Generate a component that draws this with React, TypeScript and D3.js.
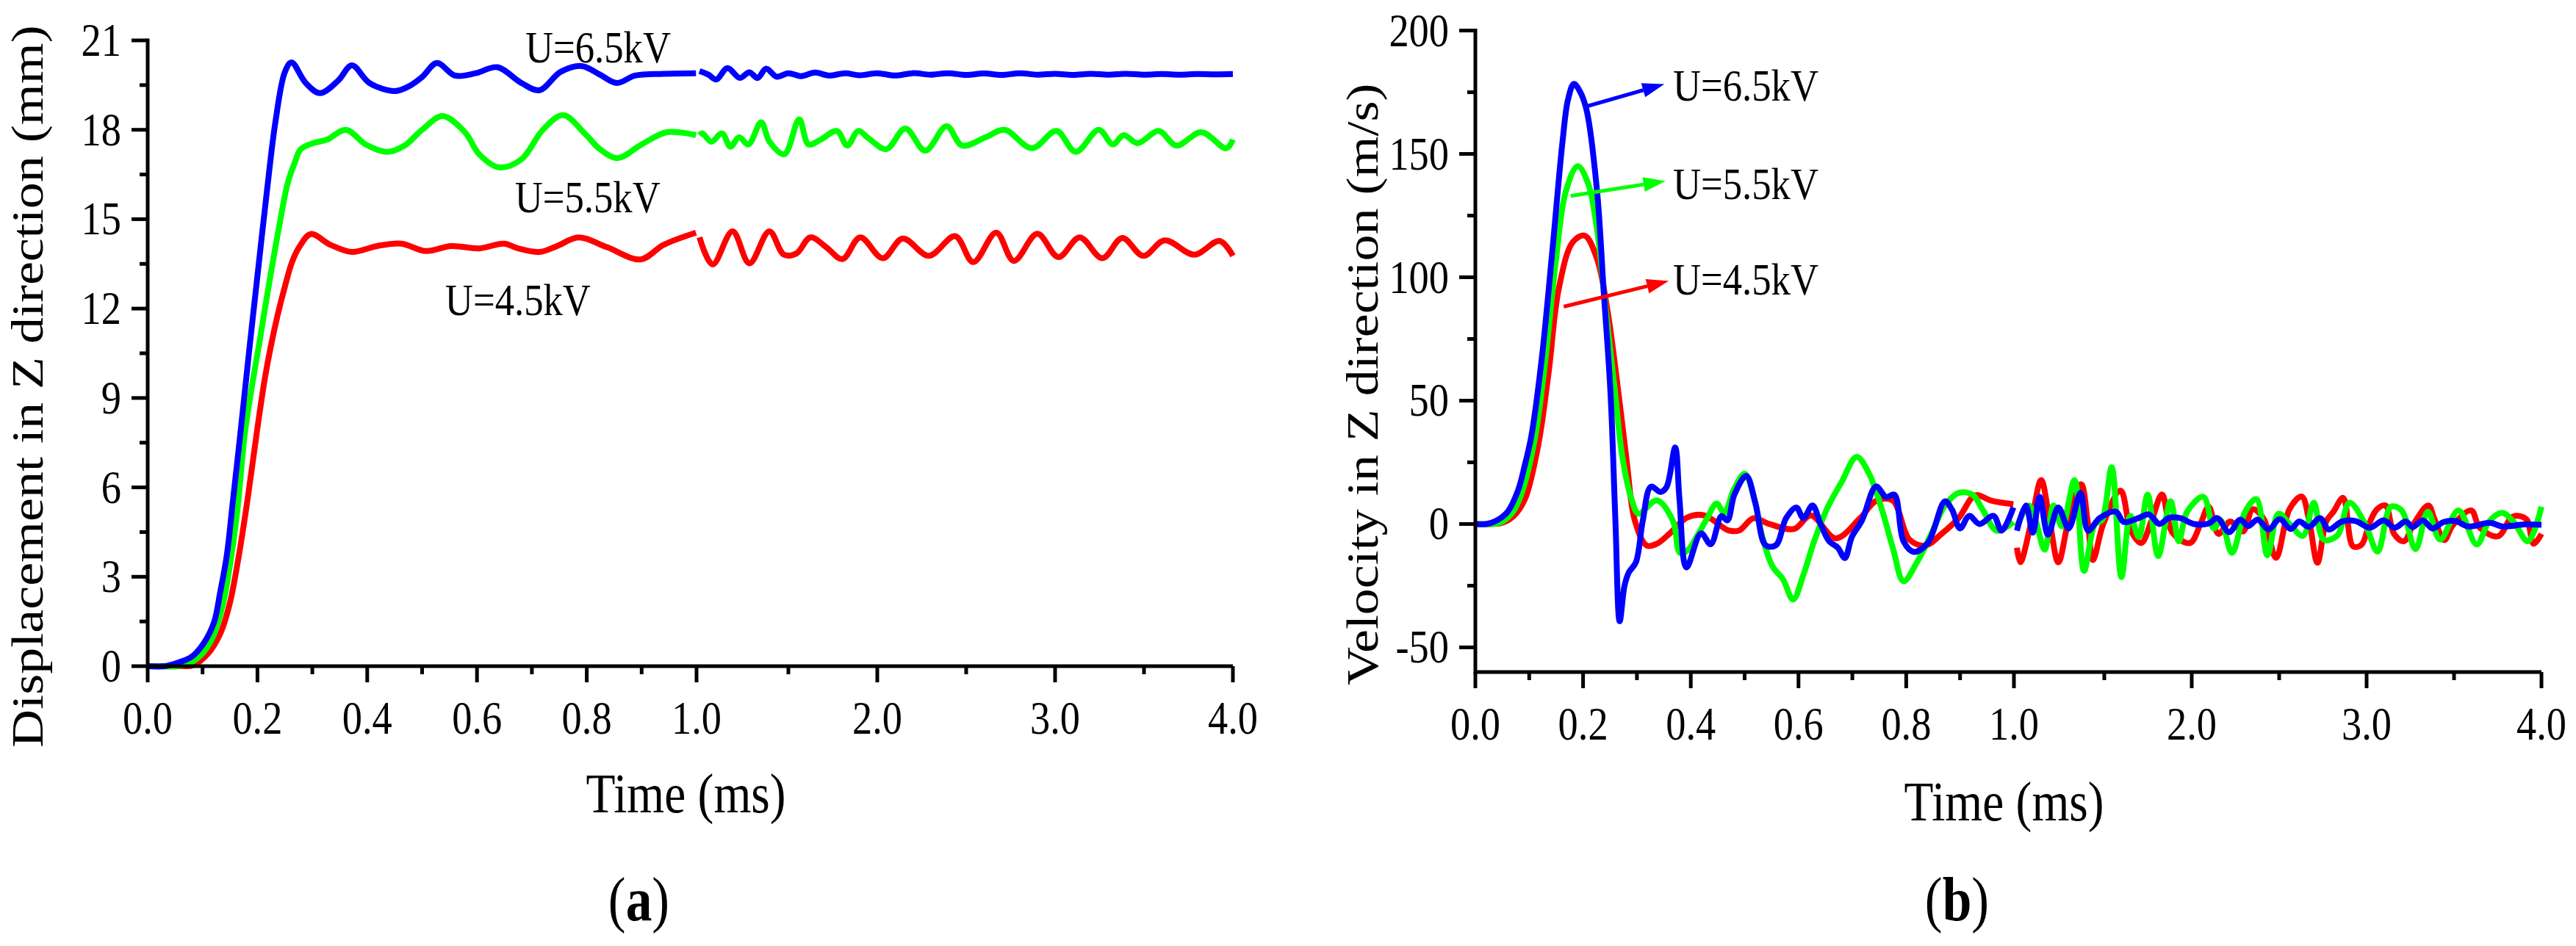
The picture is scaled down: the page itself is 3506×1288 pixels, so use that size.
import * as d3 from 'd3'
import React from 'react'

type Pt = [number, number]

const FONT = '"Times New Roman", "Liberation Serif", serif'
const SQUEEZE = 0.85
const BLUE = '#0000ff'
const GREEN = '#00ff00'
const RED = '#ff0000'

// time ticks (broken axis: 0-1 ms, then 1-4 ms)
const timeMajorA = [0, 0.2, 0.4, 0.6, 0.8, 1.0]
const timeMinorA = [0.1, 0.3, 0.5, 0.7, 0.9]
const timeMajorB = [2, 3, 4]
const timeMinorB = [1.5, 2.5, 3.5]

// (a) displacement, mm
const dispMajor = [0, 3, 6, 9, 12, 15, 18, 21]
const dispMinor = [1.5, 4.5, 7.5, 10.5, 13.5, 16.5, 19.5]

const disp45: Pt[] = [
    [0, 0], [0.06, 0], [0.083, 0.03], [0.11, 0.42], [0.132, 1.08], [0.15, 2.14], [0.166, 3.7], [0.182, 5.6],
    [0.2, 8.0], [0.213, 9.6], [0.224, 10.7], [0.237, 11.8], [0.25, 12.74], [0.263, 13.56], [0.276, 14.06],
    [0.297, 14.5], [0.333, 14.14], [0.372, 13.9], [0.418, 14.1], [0.462, 14.18], [0.507, 13.93], [0.553, 14.1],
    [0.604, 14.02], [0.649, 14.18], [0.675, 14.02], [0.714, 13.9], [0.746, 14.1], [0.785, 14.39], [0.837, 14.06],
    [0.898, 13.65], [0.94, 14.14], [0.999, 14.55],
    [1.0, 14.39], [1.074, 13.48], [1.186, 14.59], [1.281, 13.52], [1.393, 14.59], [1.475, 13.81], [1.545, 13.85],
    [1.624, 14.39], [1.713, 14.06], [1.804, 13.66], [1.904, 14.39], [2.031, 13.69], [2.143, 14.35], [2.29, 13.77],
    [2.438, 14.43], [2.54, 13.56], [2.669, 14.55], [2.768, 13.6], [2.9, 14.51], [3.019, 13.73], [3.138, 14.39],
    [3.266, 13.69], [3.378, 14.37], [3.496, 13.77], [3.616, 14.29], [3.783, 13.81], [3.925, 14.27], [4.0, 13.77],
]

const disp55: Pt[] = [
    [0, 0], [0.05, 0], [0.07, 0.05], [0.097, 0.37], [0.119, 0.99], [0.137, 2.07], [0.15, 3.4], [0.162, 5.0],
    [0.177, 7.8], [0.19, 9.4], [0.203, 10.8], [0.22, 12.7], [0.24, 14.8], [0.255, 16.2], [0.268, 16.9],
    [0.279, 17.35], [0.301, 17.55], [0.327, 17.67], [0.361, 18.0], [0.398, 17.5], [0.436, 17.26], [0.468, 17.47],
    [0.5, 18.0], [0.537, 18.46], [0.578, 17.92], [0.604, 17.18], [0.64, 16.74], [0.681, 17.01], [0.72, 18.0],
    [0.757, 18.49], [0.798, 17.84], [0.824, 17.35], [0.856, 17.05], [0.9, 17.51], [0.946, 17.92], [0.999, 17.82],
    [1.0, 17.82], [1.016, 17.88], [1.066, 17.6], [1.127, 17.88], [1.174, 17.43], [1.222, 17.75], [1.275, 17.51],
    [1.347, 18.25], [1.394, 17.6], [1.477, 17.18], [1.561, 18.35], [1.613, 17.51], [1.682, 17.67], [1.773, 17.96],
    [1.831, 17.47], [1.893, 17.96], [1.952, 17.71], [2.051, 17.35], [2.158, 18.04], [2.27, 17.3], [2.39, 18.12],
    [2.477, 17.47], [2.61, 17.75], [2.716, 18.0], [2.87, 17.38], [3.008, 17.96], [3.116, 17.26], [3.246, 18.0],
    [3.325, 17.51], [3.385, 17.82], [3.464, 17.55], [3.583, 17.96], [3.682, 17.47], [3.822, 17.92], [3.963, 17.38],
    [4.0, 17.67],
]

const disp65: Pt[] = [
    [0, 0], [0.03, 0], [0.052, 0.1], [0.079, 0.3], [0.101, 0.74], [0.121, 1.48], [0.132, 2.47], [0.144, 3.7],
    [0.155, 5.5], [0.17, 8.0], [0.185, 10.6], [0.2, 13.1], [0.217, 15.9], [0.233, 18.3], [0.25, 19.94],
    [0.262, 20.26], [0.288, 19.57], [0.314, 19.23], [0.347, 19.65], [0.372, 20.16], [0.404, 19.57], [0.45, 19.3],
    [0.475, 19.45], [0.5, 19.77], [0.527, 20.24], [0.56, 19.82], [0.598, 19.9], [0.637, 20.1], [0.681, 19.57],
    [0.714, 19.33], [0.752, 19.94], [0.791, 20.14], [0.824, 19.85], [0.855, 19.57], [0.888, 19.82], [0.94, 19.88],
    [0.999, 19.9],
    [1.0, 19.97], [1.05, 19.85], [1.095, 19.69], [1.157, 20.07], [1.227, 19.74], [1.28, 19.93], [1.327, 19.74],
    [1.375, 20.05], [1.434, 19.78], [1.5, 19.9], [1.57, 19.8], [1.65, 19.92], [1.73, 19.82], [1.82, 19.9],
    [1.9, 19.83], [2.0, 19.9], [2.1, 19.82], [2.2, 19.9], [2.3, 19.85], [2.4, 19.9], [2.5, 19.84], [2.6, 19.89],
    [2.7, 19.84], [2.8, 19.9], [2.9, 19.85], [3.0, 19.88], [3.1, 19.84], [3.2, 19.88], [3.3, 19.85], [3.4, 19.88],
    [3.5, 19.85], [3.6, 19.87], [3.7, 19.85], [3.8, 19.87], [3.9, 19.86], [4.0, 19.87],
]

// (b) velocity, m/s
const velMajor = [-50, 0, 50, 100, 150, 200]
const velMinor = [-25, 25, 75, 125, 175]

const vel45: Pt[] = [
    [0, 0], [0.03, 0], [0.05, 0.5], [0.07, 3], [0.092, 10.1], [0.117, 32.3], [0.136, 61.3], [0.155, 95.5],
    [0.181, 114.3], [0.203, 116.9], [0.226, 107.4], [0.245, 87], [0.264, 56.2], [0.281, 25.5], [0.296, 1.5],
    [0.318, -8.7], [0.337, -8], [0.36, -4], [0.394, 2.7], [0.425, 3.5], [0.47, -2.6], [0.49, -2.6], [0.516, 2.3],
    [0.546, 0], [0.592, -2], [0.623, 3.5], [0.669, -5.8], [0.714, 2.3], [0.745, 9.5], [0.775, 9.5], [0.806, -6.3],
    [0.836, -8.7], [0.866, -3.9], [0.897, 2.3], [0.928, 11.6], [0.958, 9.5], [0.999, 8],
    [1.0, -9.6], [1.02, -15.5], [1.08, 0], [1.139, 17.8], [1.187, 1.5], [1.237, -15.5], [1.296, 1.5],
    [1.368, 16.1], [1.405, 1], [1.435, -14.6], [1.494, 0], [1.593, 13.5], [1.652, -2.7], [1.711, -7.7],
    [1.771, 1.5], [1.83, 12], [1.89, -3.5], [1.99, -7.7], [2.05, 0], [2.097, 7], [2.153, -4], [2.22, 1],
    [2.293, -3], [2.349, 6], [2.412, 2], [2.482, -13.7], [2.559, 6], [2.629, 11.1], [2.67, 2], [2.719, -15.7],
    [2.769, 1], [2.811, 5], [2.866, 10.6], [2.922, -9], [2.97, -8.5], [3.02, 1], [3.06, 6], [3.108, 7.5],
    [3.157, -4], [3.213, -7], [3.269, 0], [3.353, 7.5], [3.388, 2], [3.444, -6.5], [3.493, -0.5], [3.598, 5.5],
    [3.647, -1.5], [3.752, -5], [3.836, 3], [3.913, 2], [3.955, -8], [4.0, -4],
]

const vel55: Pt[] = [
    [0, 0], [0.03, 0], [0.05, 1], [0.07, 5], [0.085, 11.9], [0.11, 34], [0.13, 66.5], [0.149, 105.8],
    [0.168, 134.8], [0.19, 145], [0.209, 138.2], [0.226, 119.4], [0.242, 87], [0.258, 56.2], [0.273, 27.2],
    [0.29, 10.1], [0.303, 4.2], [0.337, 9.6], [0.367, 1.2], [0.38, -11.7], [0.394, -10.7], [0.412, -4.8],
    [0.43, 2.2], [0.448, 8.3], [0.462, 4.5], [0.48, 14], [0.5, 20.4], [0.516, 11.9], [0.533, -5.3], [0.552, -17.3],
    [0.571, -22.3], [0.59, -30.6], [0.609, -20.7], [0.629, -7], [0.654, 6.7], [0.68, 17], [0.708, 27.2],
    [0.731, 20.4], [0.756, 5], [0.776, -10.4], [0.795, -23.2], [0.82, -15.5], [0.846, -4.3], [0.872, 7.5],
    [0.897, 12.6], [0.923, 11.9], [0.942, 5.8], [0.968, -2.7], [0.999, 0.8],
    [1.0, -1], [1.068, 7.5], [1.107, 1.5], [1.159, -10.4], [1.21, 7.5], [1.258, -1], [1.33, 17.8], [1.384, -19],
    [1.447, 0], [1.486, 1.5], [1.542, 23], [1.598, -21.5], [1.649, 3.3], [1.697, -5.3], [1.748, 11.9],
    [1.808, -13], [1.879, 9.2], [1.926, -7], [1.974, 5], [2.067, 11], [2.126, -1.8], [2.166, 1.5], [2.23, -11.7],
    [2.307, 5.2], [2.37, 10.1], [2.433, -12.7], [2.496, 4.2], [2.56, 0], [2.636, -4.8], [2.698, 8.6],
    [2.754, -6.3], [2.831, -4.8], [2.902, 8.6], [2.992, 0], [3.063, -11.2], [3.139, 7], [3.2, 5.5], [3.28, -10.2],
    [3.35, 5], [3.42, -6.3], [3.525, 5.5], [3.63, -8.3], [3.7, 1], [3.776, 4.5], [3.839, 1], [3.923, -7], [4.0, 7],
]

const vel65: Pt[] = [
    [0, 0], [0.02, 0], [0.04, 1.5], [0.06, 5], [0.079, 13.5], [0.092, 24], [0.104, 35.7], [0.123, 66.5],
    [0.143, 110.9], [0.162, 155.3], [0.172, 172], [0.183, 178.4], [0.195, 175], [0.207, 167.3], [0.226, 134.8],
    [0.238, 95.5], [0.251, 52.8], [0.26, 1.5], [0.268, -39.4], [0.277, -25], [0.285, -19.6], [0.298, -15.6],
    [0.311, 1.5], [0.326, 15.1], [0.344, 13], [0.355, 15], [0.371, 31], [0.379, 10.1], [0.392, -17.6],
    [0.419, -3.8], [0.437, -8.2], [0.457, 3.2], [0.468, 1.5], [0.481, 11.9], [0.503, 19.5], [0.52, 8.4],
    [0.539, -8.6], [0.558, -8.6], [0.577, 2.4], [0.596, 6.7], [0.609, 2.4], [0.626, 7.5], [0.641, 0],
    [0.657, -7], [0.673, -9.6], [0.686, -13.8], [0.699, -5.3], [0.718, 1.5], [0.744, 15.2], [0.763, 10.9],
    [0.778, 11.9], [0.795, -7], [0.814, -11.3], [0.84, -7.7], [0.872, 9.2], [0.885, 5.8], [0.9, -1.8],
    [0.917, 3.3], [0.936, 0], [0.962, 3.3], [0.977, -2.7], [0.999, 6.7],
    [1.0, -2.7], [1.052, 7.5], [1.091, -3.5], [1.13, 11], [1.178, -4.3], [1.237, 6.7], [1.296, -1.8],
    [1.364, 12.6], [1.407, -2.7], [1.474, 2.4], [1.565, 5], [1.612, 0.8], [1.695, 2.4], [1.755, 3.9], [1.815, 0],
    [1.87, 2.5], [1.934, 2.4], [2.013, 0], [2.097, 0.2], [2.146, 2.4], [2.214, -3.3], [2.277, 1.8], [2.323, -0.8],
    [2.377, 1.8], [2.44, -2.2], [2.503, 2], [2.566, -2], [2.615, 1], [2.671, -1.2], [2.734, 2.4], [2.783, -2.2],
    [2.859, 1], [2.936, 1.2], [3.02, -1.5], [3.097, 1.5], [3.16, -1.5], [3.223, 1], [3.265, -1.2], [3.321, 1.5],
    [3.377, -1.8], [3.44, 0.8], [3.51, 1.2], [3.58, -1], [3.706, 0.5], [3.776, -1], [3.9, -0.2], [4.0, -0.3],
]

const seriesNames = ['U=4.5kV', 'U=5.5kV', 'U=6.5kV']
const seriesColors = [RED, GREEN, BLUE]

// label anchors in data units: [time, value]
const dispLabelPos: Pt[] = [[0.542, 11.78], [0.669, 15.23], [0.688, 20.26]]
const velLabelPos: Pt[] = [[0.367, 92.9], [0.367, 131.8], [0.367, 171.7]]
const velArrowFrom: Pt[] = [[0.164, 88.1], [0.177, 133], [0.207, 169.3]]
const velArrowTo: Pt[] = [[0.359, 98.5], [0.353, 139], [0.351, 178.3]]

const fmt = d3.format('.1f')

const SText = (props: {
    x: number
    y: number
    size: number
    anchor?: string
    children: React.ReactNode
}): JSX.Element => (
    <text
        transform={`translate(${props.x},${props.y}) scale(${SQUEEZE},1)`}
        fontSize={props.size}
        fontFamily={FONT}
        textAnchor={props.anchor || 'start'}
        fill="#000"
    >
        {props.children}
    </text>
)

type PanelProps = {
    left: number
    mid: number
    right: number
    top: number
    bottom: number
    yDomain: [number, number]
    yMajor: number[]
    yMinor: number[]
    series: Pt[][]
    yTitle: string
    yTitleX: number
    xTitleY: number
    caption: string
    labelPos: Pt[]
    arrowFrom?: Pt[]
    arrowTo?: Pt[]
}

const Panel = (props: PanelProps): JSX.Element => {
    const { left, mid, right, top, bottom } = props
    const xA = d3.scaleLinear().domain([0, 1]).range([left, mid])
    const xB = d3.scaleLinear().domain([1, 4]).range([mid + 4, right])
    const xAt = (t: number) => (t <= 1 ? xA(t) : xB(t))
    const y = d3.scaleLinear().domain(props.yDomain).range([bottom, top])

    const lineA = d3
        .line<Pt>()
        .x((d) => xA(d[0]))
        .y((d) => y(d[1]))
        .curve(d3.curveCatmullRom.alpha(0.5))
    const lineB = d3
        .line<Pt>()
        .x((d) => xB(d[0]))
        .y((d) => y(d[1]))
        .curve(d3.curveCatmullRom.alpha(0.5))

    const majorLen = 22
    const minorLen = 11
    const xMajor = [...timeMajorA, ...timeMajorB]
    const xMinor = [...timeMinorA, ...timeMinorB]

    return (
        <g>
            {props.series.map((data, i) => (
                <g key={i} fill="none" stroke={seriesColors[i]} strokeWidth={8} strokeLinejoin="round">
                    <path d={lineA(data.filter((d) => d[0] < 1)) || ''} />
                    <path d={lineB(data.filter((d) => d[0] >= 1)) || ''} />
                </g>
            ))}

            {props.arrowFrom &&
                props.arrowTo &&
                props.arrowFrom.map((from, i) => {
                    const x1 = xA(from[0])
                    const y1 = y(from[1])
                    const x2 = xA(props.arrowTo![i][0])
                    const y2 = y(props.arrowTo![i][1])
                    const ang = Math.atan2(y2 - y1, x2 - x1)
                    const head = 30
                    const half = 10
                    const bx = x2 - head * Math.cos(ang)
                    const by = y2 - head * Math.sin(ang)
                    const nx = -Math.sin(ang) * half
                    const ny = Math.cos(ang) * half
                    return (
                        <g key={`arrow-${i}`} fill={seriesColors[i]} stroke={seriesColors[i]}>
                            <line x1={x1} y1={y1} x2={bx} y2={by} strokeWidth={5} />
                            <polygon
                                points={`${x2},${y2} ${bx + nx},${by + ny} ${bx - nx},${by - ny}`}
                                stroke="none"
                            />
                        </g>
                    )
                })}

            {/* axes */}
            <g stroke="#000" strokeWidth={5} fill="none">
                <line x1={left} y1={bottom} x2={right} y2={bottom} />
                <line x1={left} y1={bottom + 2.5} x2={left} y2={top - 2.5} />
                {xMajor.map((t) => (
                    <line key={`xM${t}`} x1={xAt(t)} x2={xAt(t)} y1={bottom} y2={bottom + majorLen} />
                ))}
                {xMinor.map((t) => (
                    <line key={`xm${t}`} x1={xAt(t)} x2={xAt(t)} y1={bottom} y2={bottom + minorLen} />
                ))}
                {props.yMajor.map((v) => (
                    <line key={`yM${v}`} x1={left} x2={left - majorLen} y1={y(v)} y2={y(v)} />
                ))}
                {props.yMinor.map((v) => (
                    <line key={`ym${v}`} x1={left} x2={left - minorLen} y1={y(v)} y2={y(v)} />
                ))}
            </g>

            {xMajor.map((t) => (
                <SText key={`xl${t}`} x={xAt(t)} y={bottom + 92} size={64} anchor="middle">
                    {fmt(t)}
                </SText>
            ))}
            {props.yMajor.map((v) => (
                <SText key={`yl${v}`} x={left - 36} y={y(v) + 21} size={64} anchor="end">
                    {v}
                </SText>
            ))}

            {props.labelPos.map((p, i) => (
                <SText key={`lab${i}`} x={xA(p[0])} y={y(p[1])} size={62}>
                    {seriesNames[i]}
                </SText>
            ))}

            <SText x={(left + right) / 2 - 6} y={props.xTitleY} size={77} anchor="middle">
                Time (ms)
            </SText>
            <text
                transform={`translate(${props.yTitleX},${(top + bottom) / 2 + 45}) scale(${SQUEEZE},1) rotate(-90)`}
                fontSize={72}
                fontFamily={FONT}
                textAnchor="middle"
            >
                {props.yTitle}
            </text>
            <SText x={(left + right) / 2 - 70} y={1253} size={84} anchor="middle">
                (<tspan fontWeight="bold">{props.caption}</tspan>)
            </SText>
        </g>
    )
}

const App = (): JSX.Element => (
    <svg
        width={3506}
        height={1288}
        viewBox="0 0 3506 1288"
        style={{ position: 'absolute', left: 0, top: 0, background: '#fff' }}
    >
        <rect width={3506} height={1288} fill="#fff" />
        <Panel
            left={201}
            mid={948}
            right={1678}
            top={55}
            bottom={907}
            yDomain={[0, 21]}
            yMajor={dispMajor}
            yMinor={dispMinor}
            series={[disp45, disp55, disp65]}
            yTitle="Displacement in Z direction (mm)"
            yTitleX={58}
            xTitleY={1106}
            caption="a"
            labelPos={dispLabelPos}
        />
        <Panel
            left={2008}
            mid={2741}
            right={3459}
            top={41.6}
            bottom={915}
            yDomain={[-60, 200]}
            yMajor={velMajor}
            yMinor={velMinor}
            series={[vel45, vel55, vel65]}
            yTitle="Velocity in Z direction (m/s)"
            yTitleX={1875}
            xTitleY={1117}
            caption="b"
            labelPos={velLabelPos}
            arrowFrom={velArrowFrom}
            arrowTo={velArrowTo}
        />
    </svg>
)

export default App
